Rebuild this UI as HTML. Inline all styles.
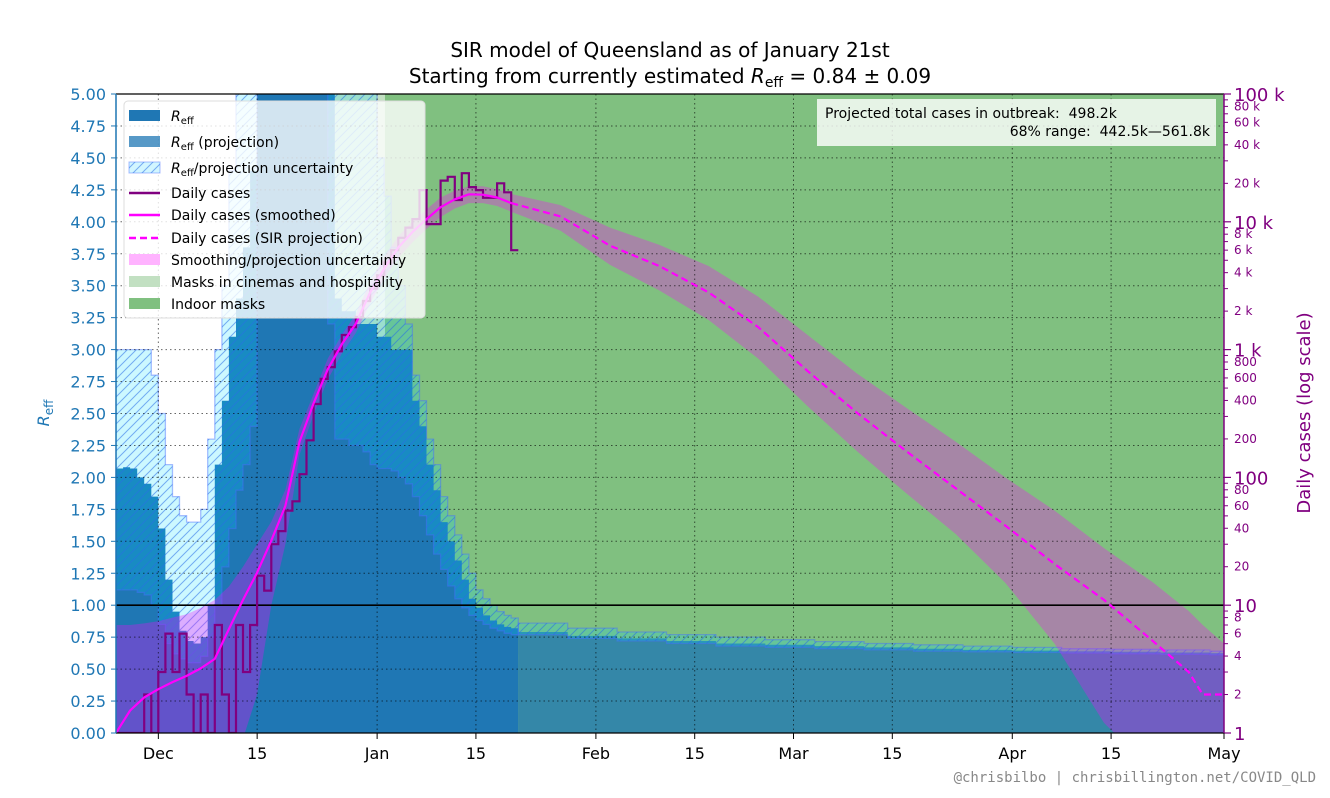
<!DOCTYPE html>
<html><head><meta charset="utf-8"><style>
body{margin:0;background:#fff;}
svg{display:block;font-family:"DejaVu Sans","Liberation Sans",sans-serif;}
</style></head><body>
<svg id="chart" width="1330" height="798" viewBox="0 0 1330 798" xmlns="http://www.w3.org/2000/svg">
<defs>
<clipPath id="plotclip"><rect x="116" y="94" width="1108" height="639"/></clipPath>
<pattern id="hatch" patternUnits="userSpaceOnUse" width="9" height="9">
<path d="M-1,10 L10,-1 M-3,3 L3,-3 M6,12 L12,6" stroke="rgba(40,110,230,0.55)" stroke-width="1"/>
</pattern>
</defs>
<g id="plot" clip-path="url(#plotclip)"></g>
<g id="overlay"></g>
</svg>
<script>
// ---- data ----
const reffCentral=[2.07,2.08,2.07,2.0,1.95,1.85,1.6,1.2,0.95,0.8,0.72,0.7,0.75,1.0,
2.1,2.6,3.1,3.4,3.8,4.4,5.5,6,6.5,7,7,7,6.8,6.5,6,5.5,5.2,
3.4,3.3,3.3,3.2,3.2,3.2,3.1,3.1,3.0,3.0,3.0,2.6,2.4,2.1,1.9,1.65,1.5,1.35,1.2,1.05,0.98,0.92,0.88,0.85,0.83,0.82];
const reffLower=[1.12,1.12,1.12,1.1,1.08,1.0,0.85,0.7,0.62,0.58,0.55,0.55,0.6,0.75,1.0,1.3,1.6,1.9,2.1,2.4,5.5,5.5,5.5,5.5,5.5,5.5,5.5,5.5,5.5,5.2,3.2,
2.3,2.3,2.25,2.25,2.2,2.1,2.07,2.07,2.05,2.0,1.95,1.85,1.7,1.55,1.4,1.28,1.15,1.05,0.98,0.92,0.88,0.85,0.82,0.8,0.78,0.77];
const reffUpper=[3.0,3.0,3.0,3.0,3.0,2.8,2.5,2.1,1.85,1.7,1.65,1.65,1.75,2.3,3.0,3.5,4.4,6,6,6,6,6,6,6,6,6,6,6,6,6,6,
6,6,6,6,5.5,5,4.5,4.2,3.8,3.5,3.2,2.8,2.6,2.3,2.1,1.85,1.7,1.55,1.4,1.25,1.12,1.05,1.0,0.95,0.92,0.9];
const projDays=[57,64,71,78,85,92,99,106,113,120,127,134,141,148,155];
const projR=[0.79,0.76,0.74,0.72,0.70,0.69,0.68,0.67,0.66,0.65,0.645,0.64,0.635,0.63,0.625];
const projHi=[0.86,0.82,0.79,0.77,0.75,0.73,0.715,0.70,0.69,0.68,0.67,0.66,0.655,0.65,0.64];
const projLo=[0.77,0.74,0.72,0.70,0.68,0.67,0.66,0.65,0.64,0.635,0.63,0.625,0.62,0.615,0.61];
const dailyCases=[1,1,1,1,2,1,3,6,3,6,2,1,2,1,7,2,1,7,3,7,17,13,30,38,55,65,106,195,375,590,730,970,1300,1500,1800,2400,3000,3800,4800,6000,7500,9000,10500,17700,9600,9600,21000,22500,14800,24000,18700,17700,15400,15400,20000,17000,6000];
const smoothDays=[0,2,4,6,8,10,12,14,16,18,20,22,24,26,28,30,32,34,36,38,40,42,44,46,48,50,52,54,56];
const smoothCases=[1,1.5,1.9,2.2,2.5,2.8,3.2,3.8,6.5,11,18,32,60,190,380,700,1100,1600,2800,4300,6300,8300,10500,13000,15000,16400,16300,15500,14000];
const smoothHi=[7,7,7.2,7.5,8,8.5,9.5,11,14,20,30,45,80,240,450,850,1300,1900,3400,5300,7700,10000,12500,15500,17500,19000,19000,18000,16500];
const smoothLo=[0.3,0.3,0.3,0.3,0.3,0.3,0.3,0.35,0.5,0.9,2,10,30,150,310,580,930,1350,2300,3600,5200,6900,8800,10900,12700,14000,14000,13300,12000];
const projCaseDays=[56,63,70,77,84,91,98,105,112,119,126,133,140,147,152,154,157];
const projCases=[14000,11000,6500,4500,2800,1500,680,320,160,82,42,21,11,5.2,3,2,2];
const projCaseHi=[16000,13500,9000,6600,4500,2600,1300,650,350,190,100,55,28,15,9,7,5];
const projCaseLo=[12000,8500,4600,2900,1700,850,360,160,75,36,15,5,1.2,0.5,0.3,0.3,0.3];
const xTickDays=[6,20,37,51,68,82,96,110,127,141,157];
const xTickLabels=["Dec","15","Jan","15","Feb","15","Mar","15","Apr","15","May"];
const maskLightStart=30.3, maskIndoorStart=38.1;

// ---- scales ----
const X0=116,X1=1224,Y0=733,YT=94,NDAYS=157;
function X(d){return X0+d*(X1-X0)/NDAYS;}
function YR(v){return Y0-v*(Y0-YT)/5;}
function YC(v){return Y0-(Y0-YT)/5*Math.log10(v);}
const NS="http://www.w3.org/2000/svg";
const plotG=document.getElementById('plot');
function el(tag,attrs,parent){const e=document.createElementNS(NS,tag);for(const k in attrs)e.setAttribute(k,attrs[k]);(parent||plotG).appendChild(e);return e;}
function stepTop(vals,start,fy){let p=[];vals.forEach((v,i)=>{p.push([X(start+i),fy(v)],[X(start+i+1),fy(v)]);});return p;}
function stepTopDays(days,vals,end,fy){let p=[];days.forEach((d,i)=>{const e=i<days.length-1?days[i+1]:end;p.push([X(d),fy(vals[i])],[X(e),fy(vals[i])]);});return p;}
function pts(p){return p.map(q=>q[0].toFixed(1)+','+q[1].toFixed(1)).join(' L');}
function cpts(days,vals){return days.map((d,i)=>[X(d),YC(vals[i])]);}

(function(){
let m1=el('rect',{x:X(maskLightStart),y:YT,width:X(maskIndoorStart)-X(maskLightStart),height:Y0-YT,fill:'#c2e0c2'});


let m2=el('rect',{x:X(maskIndoorStart),y:YT,width:X1-X(maskIndoorStart),height:Y0-YT,fill:'#80c080'});



let reffTop=stepTop(reffCentral,0,YR);
let r=el('path',{d:'M'+X(0)+','+Y0+' L'+pts(reffTop)+' L'+X(reffCentral.length)+','+Y0+'Z',fill:'#1f77b4'});


let projTop=stepTopDays(projDays,projR,NDAYS,YR);
let pr=el('path',{d:'M'+X(projDays[0])+','+Y0+' L'+pts(projTop)+' L'+X(NDAYS)+','+Y0+'Z',fill:'rgba(31,119,180,0.78)'});


function band(hiP,loP,name){const d='M'+pts(hiP)+' L'+pts(loP.slice().reverse())+'Z';
 let a=el('path',{d:d,fill:'rgba(0,220,255,0.2)',stroke:'rgba(70,110,255,0.45)','stroke-width':1.3});
 
 
 let b=el('path',{d:d,fill:'url(#hatch)'});
 
 }
band(stepTop(reffUpper,0,YR),stepTop(reffLower,0,YR),'reff-uncertainty-band');
band(stepTopDays(projDays,projHi,NDAYS,YR),stepTopDays(projDays,projLo,NDAYS,YR),'projection-uncertainty-band');

const hiAll=cpts(smoothDays,smoothHi).concat(cpts(projCaseDays,projCaseHi).slice(1));
const loAll=cpts(smoothDays,smoothLo).concat(cpts(projCaseDays,projCaseLo).slice(1));
let cb=el('path',{d:'M'+pts(hiAll)+' L'+pts(loAll.slice().reverse())+'Z',fill:'rgba(255,0,255,0.3)'});



for(let v=0.25;v<5;v+=0.25){let g=el('line',{x1:X0,x2:X1,y1:YR(v),y2:YR(v),stroke:'rgba(0,0,0,0.6)','stroke-width':1,'stroke-dasharray':'1.5,3'});
 
 }
xTickDays.forEach(d=>{let g=el('line',{x1:X(d),x2:X(d),y1:YT,y2:Y0,stroke:'rgba(0,0,0,0.6)','stroke-width':1,'stroke-dasharray':'1.5,3'});
 
 });
let one=el('line',{x1:X0,x2:X1,y1:YR(1),y2:YR(1),stroke:'#000','stroke-width':1.6});



let dc=stepTop(dailyCases,0,YC);
let dl=el('path',{d:'M'+pts(dc),fill:'none',stroke:'#800080','stroke-width':2.2});


let sl=el('path',{d:'M'+pts(cpts(smoothDays,smoothCases)),fill:'none',stroke:'#ff00ff','stroke-width':2.2,'stroke-linejoin':'round'});


let pl=el('path',{d:'M'+pts(cpts(projCaseDays,projCases)),fill:'none',stroke:'#ff00ff','stroke-width':2.2,'stroke-dasharray':'7,4'});


})();

(function(){
const o=document.getElementById('overlay');
function t(x,y,s,attrs,name){const e=document.createElementNS(NS,'text');e.setAttribute('x',x);e.setAttribute('y',y);for(const k in attrs)e.setAttribute(k,attrs[k]);e.textContent=s;o.appendChild(e);
 
 
 return e;}
function l(x1,y1,x2,y2,c,w,name){const e=el('line',{x1:x1,y1:y1,x2:x2,y2:y2,stroke:c,'stroke-width':w},o);
 
 
 return e;}
l(X0,YT,X1,YT,'#000',1.2,'top-spine');l(X0,Y0,X1,Y0,'#000',1.2,'bottom-spine');
l(X0,YT,X0,Y0,'#1f77b4',1.5,'left-spine');l(X1,YT,X1,Y0,'#800080',1.5,'right-spine');
for(let i=0;i<=20;i++){const v=i*0.25;l(X0-5,YR(v),X0,YR(v),'#1f77b4',1,'left-tick');
 t(X0-10,YR(v)+6,v.toFixed(2),{'text-anchor':'end','font-size':16,fill:'#1f77b4'},'left-tick-label');}
for(let dec=0;dec<=5;dec++){
 const base=Math.pow(10,dec);
 l(X1,YC(base),X1+7,YC(base),'#800080',1.2,'right-major-tick');
 const lab=['1','10','100','1 k','10 k','100 k'][dec];
 t(X1+10,YC(base)+7,lab,{'font-size':18,fill:'#800080'},'right-major-label');
 if(dec<5)for(let m=2;m<=9;m++){const v=m*base;l(X1,YC(v),X1+4,YC(v),'#800080',1,'right-minor-tick');
  if(m%2===0){const ml=dec>=3?(m*base/1000)+' k':String(m*base);t(X1+10,YC(v)+4,ml,{'font-size':12,fill:'#800080'},'right-minor-label');}}
}
xTickDays.forEach((d,i)=>{l(X(d),Y0,X(d),Y0+6,'#000',1,'x-tick');
 t(X(d),Y0+26,xTickLabels[i],{'text-anchor':'middle','font-size':16,fill:'#000'},'x-tick-label');});
const yl=t(0,0,'',{'font-size':16,fill:'#1f77b4',transform:'translate(49,413) rotate(-90)','text-anchor':'middle'},'left-axis-title');
yl.innerHTML='<tspan font-style="italic">R</tspan><tspan font-size="12" dy="4">eff</tspan>';
t(0,0,'Daily cases (log scale)',{'font-size':18,fill:'#800080',transform:'translate(1310,413) rotate(-90)','text-anchor':'middle'},'right-axis-title');
t(670,57,'SIR model of Queensland as of January 21st',{'font-size':20,'text-anchor':'middle',fill:'#000'},'title-line-1');
const t2=t(670,83,'',{'font-size':20,'text-anchor':'middle',fill:'#000'},'title-line-2');
t2.innerHTML='Starting from currently estimated <tspan font-style="italic">R</tspan><tspan font-size="14" dy="4">eff</tspan><tspan dy="-4"> = 0.84 ± 0.09</tspan>';
t(1316,782,'@chrisbilbo | chrisbillington.net/COVID_QLD',{'font-size':14,'text-anchor':'end',fill:'#888','font-family':'"DejaVu Sans Mono","Liberation Mono",monospace'},'credit-text');
const ab=el('rect',{x:817,y:99,width:399,height:47,fill:'rgba(255,255,255,0.8)'},o);


t(825,118,'Projected total cases in outbreak:  498.2k',{'font-size':14,fill:'#000',style:'white-space:pre'},'total-cases-text');
t(1210,136,'68% range:  442.5k—561.8k',{'font-size':14,fill:'#000','text-anchor':'end',style:'white-space:pre'},'range-text');
const lg=el('rect',{x:124,y:101,width:301,height:217,rx:4,fill:'rgba(255,255,255,0.8)',stroke:'#ddd'},o);


const rows=[116,142,168,193,215,238,260,282,304];
function patch(y,fill,name,extra){const e=el('rect',Object.assign({x:129,y:y-6,width:31,height:11,fill:fill},extra||{}),o);
 
 
 return e;}
patch(rows[0],'#1f77b4','legend-reff-swatch');
patch(rows[1],'rgba(31,119,180,0.75)','legend-projection-swatch');
patch(rows[2],'#d2f6ff','legend-uncertainty-swatch',{stroke:'rgba(70,110,255,0.45)'});
patch(rows[2],'url(#hatch)','legend-uncertainty-hatch');
l(129,rows[3],160,rows[3],'#800080',2.5,'legend-daily-swatch');
l(129,rows[4],160,rows[4],'#ff00ff',2.5,'legend-smoothed-swatch');
const ds=l(129,rows[5],160,rows[5],'#ff00ff',2.5,'legend-projection-line-swatch');ds.setAttribute('stroke-dasharray','7,4');
patch(rows[6],'#ffb3ff','legend-band-swatch');
patch(rows[7],'#c2e0c2','legend-masks-cinemas-swatch');
patch(rows[8],'#80c080','legend-indoor-masks-swatch');
const labs=['<tspan font-style="italic">R</tspan><tspan font-size="10" dy="3">eff</tspan>',
'<tspan font-style="italic">R</tspan><tspan font-size="10" dy="3">eff</tspan><tspan dy="-3"> (projection)</tspan>',
'<tspan font-style="italic">R</tspan><tspan font-size="10" dy="3">eff</tspan><tspan dy="-3">/projection uncertainty</tspan>',
'Daily cases','Daily cases (smoothed)','Daily cases (SIR projection)','Smoothing/projection uncertainty','Masks in cinemas and hospitality','Indoor masks'];
labs.forEach((s,i)=>{const e=t(171,rows[i]+5,'',{'font-size':14,fill:'#000'},'legend-label');e.innerHTML=s;});
})();
</script>
</body></html>
